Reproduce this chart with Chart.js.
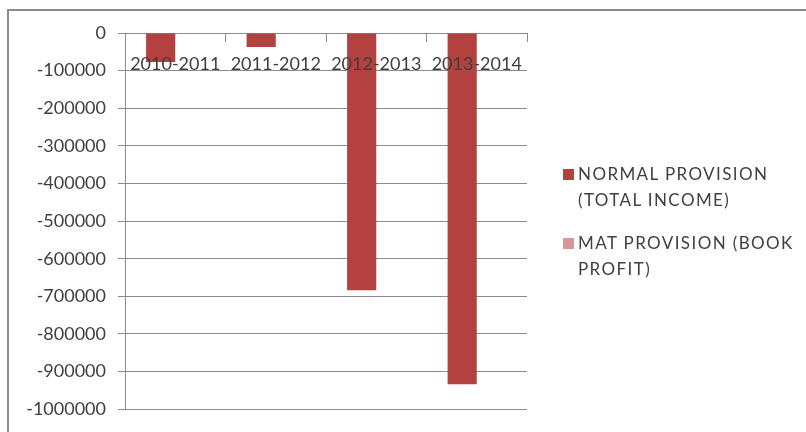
<!DOCTYPE html>
<html>
<head>
    <title>Normal vs MAT Provision</title>
    <script src="https://cdn.jsdelivr.net/npm/chart.js"></script>
    <style>
        body { margin: 0; background: #fff; }
        #wrap { position: relative; width: 806px; height: 432px; }
        #frame { position: absolute; left: 7px; top: 9px; right: 0; bottom: 0;
                 border-top: 2px solid #8c8c8c; border-left: 2px solid #8c8c8c; pointer-events: none; }
        #legend { position: absolute; left: 563px; top: 161px; font-family: Lato, sans-serif;
                  font-size: 17px; color: #404040; line-height: 26px; letter-spacing: 1.4px; }
        .item { position: relative; padding-left: 15px; margin-bottom: 17px; }
        .box { position: absolute; left: 0; top: 8px; width: 11px; height: 11px; }
    </style>
</head>
<body>

<div id="wrap">
    <canvas id="provChart" width="806" height="432"></canvas>
    <div id="frame"></div>
    <div id="legend"></div>
</div>

<script>
const years = ['2010-2011', '2011-2012', '2012-2013', '2013-2014'];
const normalProvision = [-77000, -37000, -684000, -934000];
const matProvision = [0, 0, 0, 0];
const seriesNames = [['NORMAL PROVISION', '(TOTAL INCOME)'], ['MAT PROVISION (BOOK', 'PROFIT)']];
const seriesColors = ['#b2413f', '#d9959a'];

document.addEventListener("DOMContentLoaded", function() {
    const ctx = document.getElementById('provChart').getContext('2d');
    const axisFont = { family: 'Lato', size: 18 };

    new Chart(ctx, {
        type: 'bar',
        data: {
            labels: years,
            datasets: [{
                label: seriesNames[0].join(' '),
                data: normalProvision,
                backgroundColor: seriesColors[0],
                categoryPercentage: 0.58,
                barPercentage: 1
            }, {
                label: seriesNames[1].join(' '),
                data: matProvision,
                backgroundColor: seriesColors[1],
                categoryPercentage: 0.58,
                barPercentage: 1
            }]
        },
        options: {
            responsive: false,
            animation: false,
            layout: { padding: { top: 33, right: 279, bottom: 22, left: 0 } },
            scales: {
                x: {
                    position: { y: 0 },
                    grid: { drawOnChartArea: false, tickLength: 8, color: '#8c8c8c' },
                    border: { color: '#8c8c8c' },
                    // z: 1 -> category labels drawn over the bars, like the original
                    ticks: { z: 1, font: axisFont, color: '#404040', padding: 12, maxRotation: 0, autoSkip: false }
                },
                y: {
                    min: -1000000,
                    max: 0,
                    afterFit: function(scale) { scale.width = 125; },
                    grid: { color: '#8c8c8c', tickLength: 7 },
                    border: { color: '#8c8c8c' },
                    ticks: {
                        stepSize: 100000,
                        font: axisFont,
                        color: '#404040',
                        padding: 12,
                        callback: function(value) { return String(value); }
                    }
                }
            },
            plugins: {
                legend: { display: false },
                tooltip: { enabled: false }
            }
        }
    });

    const legend = document.getElementById('legend');
    seriesNames.forEach(function(lines, i) {
        const item = document.createElement('div');
        item.className = 'item';
        item.innerHTML = '<span class="box" style="background:' + seriesColors[i] + '"></span>' + lines.join('<br>');
        legend.appendChild(item);
    });
});
</script>

</body>
</html>
